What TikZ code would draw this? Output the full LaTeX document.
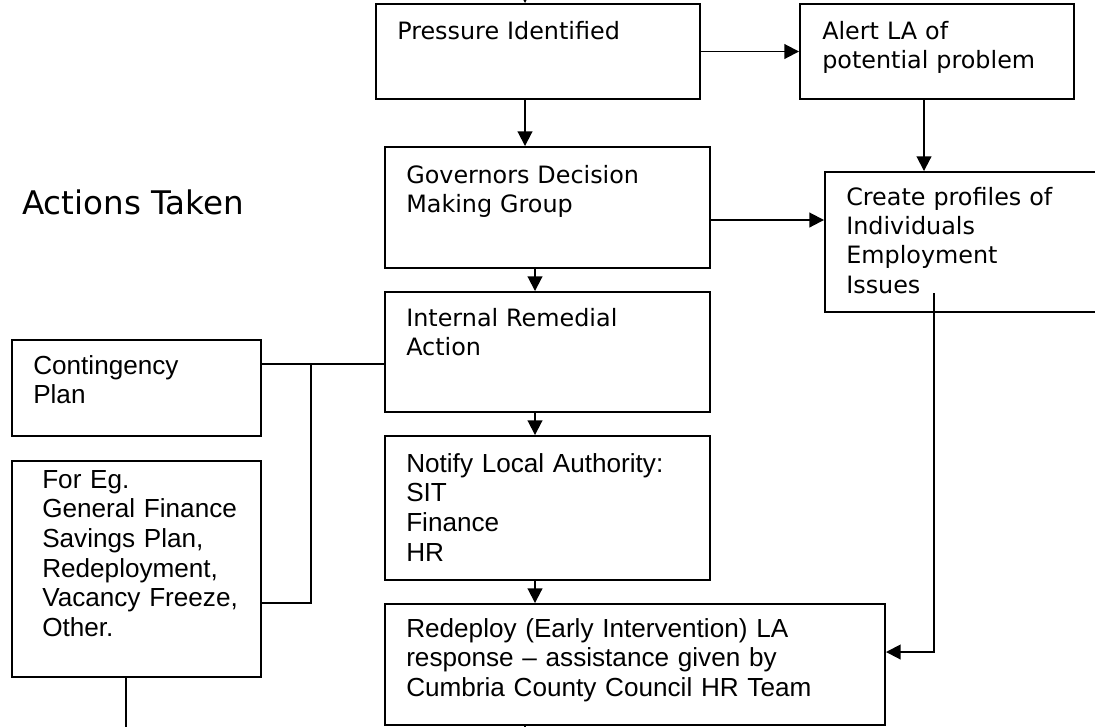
\documentclass[tikz,border=0pt]{standalone}
\usepackage{fontspec}
\setmainfont{Liberation Sans}
\newfontfamily\verd{DejaVu Sans}
\usetikzlibrary{arrows.meta,fit}
\begin{document}
\begin{tikzpicture}[x=0.75pt,y=-0.75pt,
  box/.style={draw,line width=1.45pt,inner sep=0pt},
  vt/.style={anchor=base west,inner sep=0pt,align=left,text width=320pt,font=\verd\fontsize{17.9pt}{22.1pt}\selectfont},
  ar/.style={anchor=base west,inner sep=0pt,align=left,text width=320pt,font=\fontsize{19.6pt}{22.3pt}\selectfont},
  con/.style={line width=1.45pt},
  arr/.style={con,-{Triangle[length=11pt,width=11pt]}}]
\useasboundingbox (0,0) rectangle (1095,726);
\clip (0,0) rectangle (1095,726);
% boxes
\node[box,fit={(376,4) (700,99)}] (p) {};
\node[box,fit={(800,4) (1074,99)}] (a) {};
\node[box,fit={(385,147) (710,268)}] (g) {};
\node[box,fit={(825,172) (1110,312)}] (cr) {};
\node[box,fit={(385,292) (710,412)}] (ir) {};
\node[box,fit={(12,340) (261,436)}] (cp) {};
\node[box,fit={(12,461) (261,677)}] (fe) {};
\node[box,fit={(385,436) (710,580)}] (nt) {};
\node[box,fit={(385,604) (885,725)}] (rd) {};
% texts
\node[vt] (pt) at (397,39.5) {Pressure Identified};
\node[vt] (at) at (822,39.5) {Alert LA of\\potential problem};
\node[vt] (gt) at (406,183) {Governors Decision\\Making Group};
\node[vt] (it) at (406,326) {Internal Remedial\\Action};
\node[vt] (crt) at (846,205) {Create profiles of\\Individuals\\Employment\\Issues};
\node[anchor=base west,inner sep=0pt,font=\verd\fontsize{24.4pt}{28pt}\selectfont] (title) at (22,214) {Actions Taken};
\node[ar] (cpt) at (33,374) {Contingency\\Plan};
\node[ar] (fet) at (42,488) {For Eg.\\General Finance\\Savings Plan,\\Redeployment,\\Vacancy Freeze,\\Other.};
\node[ar] (ntt) at (406,472) {Notify Local Authority:\\SIT\\Finance\\HR};
\node[ar] (rdt) at (406,637) {Redeploy (Early Intervention) LA\\response -- assistance given by\\Cumbria County Council HR Team};
% helper coordinates
\coordinate (c1) at (525,0);
\coordinate (c2) at (535,0);
\coordinate (c3) at (924,0);
\coordinate (c4) at (934,293);
\coordinate (r1) at (0,220);
\coordinate (r2) at (0,364);
\coordinate (r3) at (0,603);
\coordinate (r4) at (0,652);
\coordinate (j) at (311,364);
\coordinate (topin) at (525,-30);
\coordinate (feout) at (126,760);
\coordinate (rdout) at (525,760);
% connectors
\draw[arr] (topin) -- (p.north -| topin);
\draw[arr] (p.east) -- (a.west);
\draw[arr] (p.south -| c1) -- (g.north -| c1);
\draw[arr] (a.south -| c3) -- (cr.north -| c3);
\draw[arr] (g.east |- r1) -- (cr.west |- r1);
\draw[arr] (g.south -| c2) -- (ir.north -| c2);
\draw[arr] (ir.south -| c2) -- (nt.north -| c2);
\draw[arr] (nt.south -| c2) -- (rd.north -| c2);
\draw[con] (cp.east |- r2) -- (ir.west |- r2);
\draw[con] (fe.east |- r3) -| (j);
\draw[arr] (c4) |- (rd.east |- r4);
\draw[con] (fe.south -| feout) -- (feout);
\draw[con] (rd.south -| rdout) -- (rdout);
\end{tikzpicture}
\end{document}
